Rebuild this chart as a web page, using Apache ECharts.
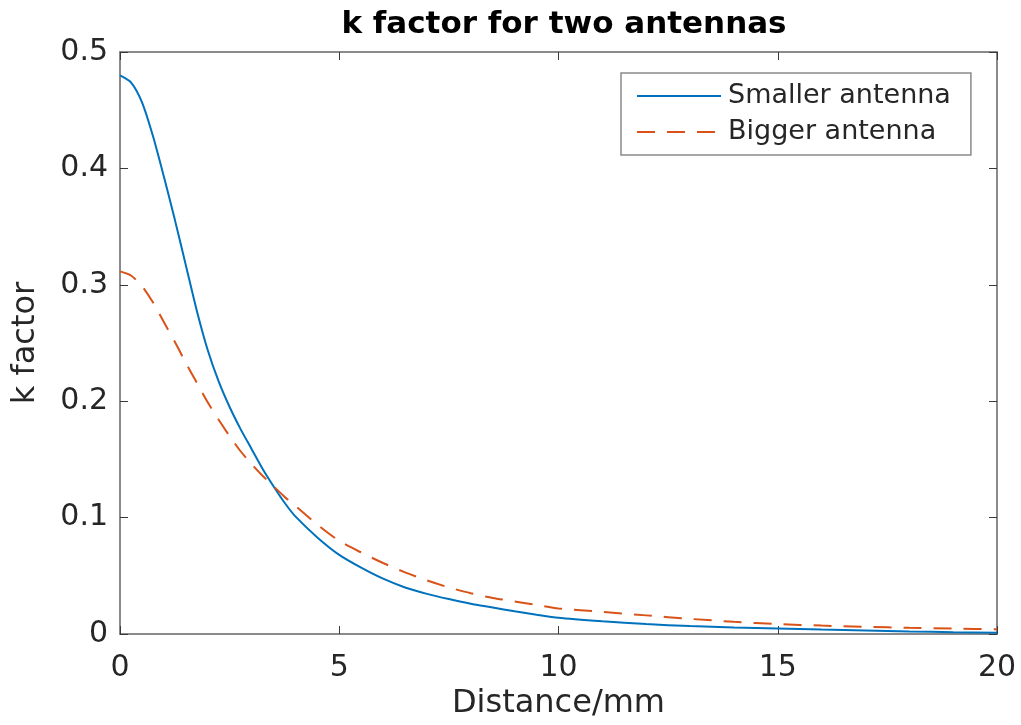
<!DOCTYPE html>
<html>
<head>
<meta charset="utf-8">
<script src="https://cdn.jsdelivr.net/npm/echarts@6/dist/echarts.min.js"></script>
<style>
html,body{margin:0;padding:0;background:#fff;}
#chart{width:1021px;height:725px;}
</style>
</head>
<body>
<div id="chart"></div>
<script>
// ---- data ----
const titleText = 'k factor for two antennas';
const xName = 'Distance/mm';
const yName = 'k factor';
const seriesNames = ['Smaller antenna', 'Bigger antenna'];
const distance = [0,0.25,0.5,0.75,1,1.25,1.5,1.75,2,2.25,2.5,2.75,3,3.25,3.5,3.75,4,4.5,5,5.5,6,6.5,7,7.5,8,8.5,9,9.5,10,11,12,13,14,15,16,17,18,19,20];
const smallerK = [0.480,0.474,0.457,0.428,0.393,0.356,0.317,0.278,0.244,0.217,0.195,0.176,0.159,0.142,0.127,0.113,0.101,0.083,0.068,0.057,0.0475,0.040,0.0345,0.030,0.026,0.0228,0.0195,0.0166,0.014,0.011,0.0085,0.0068,0.0056,0.0048,0.0038,0.003,0.0022,0.0016,0.0011];
const biggerK = [0.3115,0.308,0.299,0.285,0.268,0.251,0.233,0.216,0.199,0.184,0.170,0.157,0.146,0.136,0.127,0.118,0.110,0.094,0.080,0.070,0.061,0.053,0.046,0.040,0.035,0.031,0.028,0.025,0.022,0.019,0.016,0.013,0.0105,0.0085,0.0072,0.0062,0.0053,0.0046,0.0040];
const xTicks = [0,5,10,15,20];
const yTicks = [0,0.1,0.2,0.3,0.4,0.5];

const pairs = (xs, ys) => xs.map((x, i) => [x, ys[i]]);

const FONT = '"DejaVu Sans", "Liberation Sans", Arial, sans-serif';
const axisLineColor = '#8a8a8a';
const tickColor = '#3a3a3a';
const labelColor = '#262626';

const chart = echarts.init(document.getElementById('chart'), null, {renderer: 'canvas'});

const baseX = {
  type: 'value', min: xTicks[0], max: xTicks[xTicks.length - 1], interval: 5,
  axisLine: {show: true, onZero: false, lineStyle: {color: axisLineColor, width: 2}},
  axisTick: {show: true, inside: true, length: 8, lineStyle: {color: tickColor, width: 1}},
  splitLine: {show: false}
};
const baseY = {
  type: 'value', min: yTicks[0], max: yTicks[yTicks.length - 1], interval: 0.1,
  axisLine: {show: true, onZero: false, lineStyle: {color: axisLineColor, width: 2}},
  axisTick: {show: true, inside: true, length: 8, lineStyle: {color: tickColor, width: 1}},
  splitLine: {show: false}
};

chart.setOption({
  animation: false,
  backgroundColor: '#ffffff',
  title: {
    text: titleText, left: 559, top: 4, textAlign: 'center',
    textStyle: {fontFamily: FONT, fontWeight: 'bold', fontSize: 31, color: '#000'}
  },
  grid: {left: 120, top: 52, right: 24, bottom: 86, containLabel: false},
  legend: {
    orient: 'vertical', left: 621, top: 73,
    data: seriesNames,
    backgroundColor: '#fff',
    borderColor: '#8a8a8a', borderWidth: 1.5, borderRadius: 0,
    padding: [7, 20, 7, 15],
    itemWidth: 84, itemHeight: 14, itemGap: 4,
    itemStyle: {color: 'rgba(0,0,0,0)', borderWidth: 0, opacity: 0},
    textStyle: {fontFamily: FONT, fontSize: 27, color: labelColor, lineHeight: 32, padding: [0, 0, 0, 2]}
  },
  xAxis: [
    Object.assign({}, baseX, {
      position: 'bottom',
      name: xName, nameLocation: 'middle', nameGap: 54,
      nameTextStyle: {fontFamily: FONT, fontSize: 32, color: labelColor},
      axisLabel: {show: true, margin: 19, fontFamily: FONT, fontSize: 30, color: labelColor}
    }),
    Object.assign({}, baseX, {position: 'top', axisLabel: {show: false}})
  ],
  yAxis: [
    Object.assign({}, baseY, {
      position: 'left',
      name: yName, nameLocation: 'middle', nameGap: 78, nameRotate: 90,
      nameTextStyle: {fontFamily: FONT, fontSize: 32, color: labelColor},
      axisLabel: {show: true, margin: 12, fontFamily: FONT, fontSize: 30, color: labelColor,
        formatter: v => (v === 0 ? '0' : v.toFixed(1))}
    }),
    Object.assign({}, baseY, {position: 'right', axisLabel: {show: false}})
  ],
  series: [
    {
      name: seriesNames[0], type: 'line', xAxisIndex: 0, yAxisIndex: 0,
      data: pairs(distance, smallerK),
      smooth: 0.25, symbol: 'none',
      lineStyle: {color: '#0072BD', width: 2},
      itemStyle: {color: '#0072BD'}
    },
    {
      name: seriesNames[1], type: 'line', xAxisIndex: 0, yAxisIndex: 0,
      data: pairs(distance, biggerK),
      smooth: 0.25, symbol: 'none',
      lineStyle: {color: '#D95319', width: 2, type: [18, 12]},
      itemStyle: {color: '#D95319'}
    }
  ]
});
</script>
</body>
</html>
